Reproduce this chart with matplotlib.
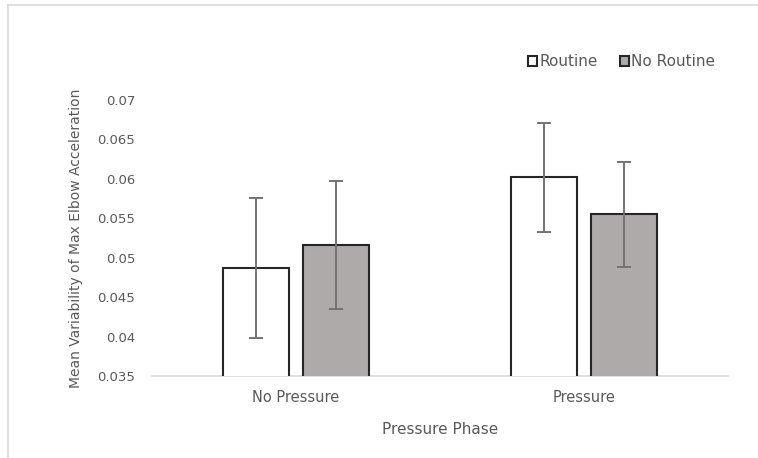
import numpy as np
import matplotlib
matplotlib.use("Agg")
import matplotlib.pyplot as plt
from matplotlib.lines import Line2D

# Data
phases = ["No Pressure", "Pressure"]
routine = [0.0487, 0.0602]
routine_err = [0.0089, 0.0069]
no_routine = [0.0516, 0.0555]
no_routine_err = [0.0081, 0.0067]
yticks = [0.035, 0.04, 0.045, 0.05, 0.055, 0.06, 0.065, 0.07]
ytick_labels = ["0.035", "0.04", "0.045", "0.05", "0.055", "0.06", "0.065", "0.07"]

plt.rcParams['font.family'] = ['DejaVu Sans']
txt = "#595959"

fig = plt.figure(figsize=(7.58, 4.58), dpi=100)
ax = fig.add_axes([152/758, 1 - 376/458, 576/758, 276/458])

# outer chart border (light gray), only top and left visible
bx, by = 8/758, 1 - 5/458
fig.add_artist(Line2D([bx, 1.01], [by, by], transform=fig.transFigure, color="#d9d9d9", lw=1.2))
fig.add_artist(Line2D([bx, bx], [-0.01, by], transform=fig.transFigure, color="#d9d9d9", lw=1.2))

x = np.arange(len(phases))
w = 0.228
off = 0.14
ekw = dict(ecolor="#737373", elinewidth=1.4, capsize=4.8, capthick=1.4)
ax.bar(x - off, routine, w, yerr=routine_err, color="white", edgecolor="#262626",
       linewidth=1.5, label="Routine", error_kw=ekw, zorder=2)
ax.bar(x + off, no_routine, w, yerr=no_routine_err, color="#aeaaaa", edgecolor="#262626",
       linewidth=1.5, label="No Routine", error_kw=ekw, zorder=2)

ax.set_xlim(-0.5, 1.5)
ax.set_ylim(0.035, 0.07)
ax.set_yticks(yticks)
ax.set_yticklabels(ytick_labels)
ax.set_xticks(x)
ax.set_xticklabels(phases)
ax.tick_params(axis="y", length=0, pad=12, labelsize=9.5, labelcolor=txt)
ax.tick_params(axis="x", length=0, pad=10, labelsize=10.5, labelcolor=txt)

for s in ["top", "right", "left"]:
    ax.spines[s].set_visible(False)
ax.spines["bottom"].set_color("#d9d9d9")
ax.spines["bottom"].set_linewidth(1.2)
ax.spines["bottom"].set_zorder(1)

ax.set_xlabel("Pressure Phase", fontsize=11, color=txt)
ax.xaxis.set_label_coords(0.5, -0.165)
ax.set_ylabel("Mean Variability of Max Elbow Acceleration", fontsize=10, color=txt)
ax.yaxis.set_label_coords(-0.12, 0.5)

leg = fig.legend(loc="center left", bbox_to_anchor=(528/758, 1 - 62/458), ncol=2,
                 frameon=False, fontsize=11, handlelength=0.6, handleheight=0.6,
                 handletextpad=0.15, columnspacing=1.45, borderaxespad=0, borderpad=0)
for t in leg.get_texts():
    t.set_color(txt)

fig.savefig("out.png", dpi=100)
